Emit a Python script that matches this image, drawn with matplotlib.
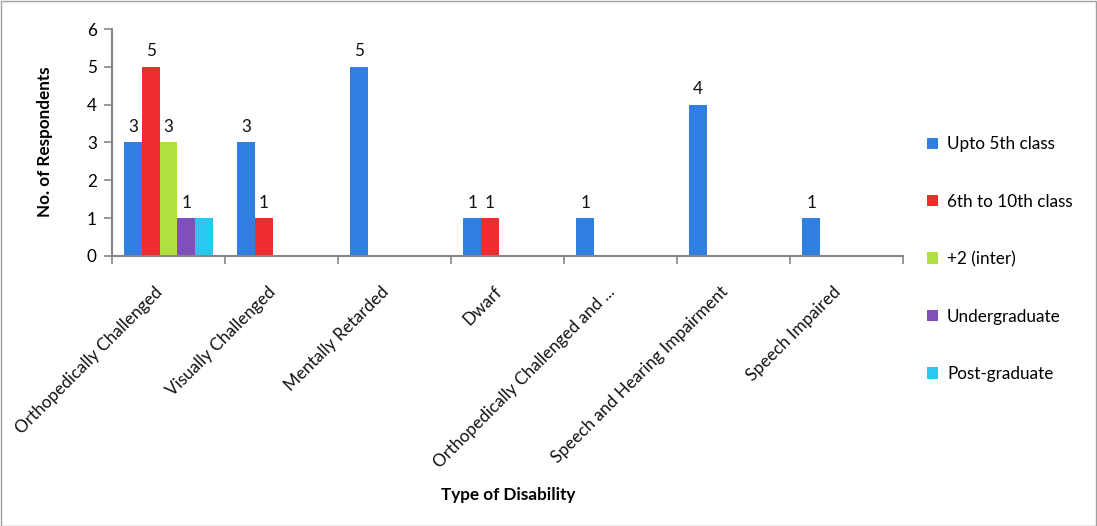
import matplotlib
matplotlib.use("Agg")
import matplotlib.pyplot as plt
import numpy as np
from matplotlib.patches import Rectangle

categories = ["Orthopedically Challenged", "Visually Challenged", "Mentally Retarded",
              "Dwarf", "Orthopedically Challenged and ...", "Speech and Hearing Impairment",
              "Speech Impaired"]
series_names = ["Upto 5th class", "6th to 10th class", "+2 (inter)", "Undergraduate", "Post-graduate"]
upto5 = [3, 3, 5, 1, 1, 4, 1]
sixth_tenth = [5, 1, 0, 1, 0, 0, 0]
plus2 = [3, 0, 0, 0, 0, 0, 0]
undergrad = [1, 0, 0, 0, 0, 0, 0]
postgrad = [1, 0, 0, 0, 0, 0, 0]
series = [upto5, sixth_tenth, plus2, undergrad, postgrad]
colors = ["#2F80E0", "#EE2E2E", "#B0E040", "#8050B8", "#28C8F0"]
show_labels = [True, True, True, True, False]

plt.rcParams['font.family'] = ['Lato', 'DejaVu Sans']
FS = 12.3

fig = plt.figure(figsize=(10.97, 5.26), dpi=100)
ax = fig.add_axes([112/1097, 1 - 256/526, (903-112)/1097, (256-29)/526])

n = len(categories)
w = 0.156
x = np.arange(n) + 0.5
for j, (vals, c, name) in enumerate(zip(series, colors, series_names)):
    pos = x + (j - 2) * w
    ax.bar(pos, vals, width=w, color=c, label=name, zorder=2)
    if show_labels[j]:
        for p, v in zip(pos, vals):
            if v > 0:
                ax.text(p, v + 0.2, str(v), ha='center', va='bottom', fontsize=FS, color='#111111')

ax.set_xlim(0, n)
ax.set_ylim(0, 6)
ax.set_yticks(range(0, 7))
ax.tick_params(axis='y', labelsize=FS, length=6, color='#868686', width=1.2, pad=5)
ax.set_xticks(range(0, n + 1))
ax.set_xticklabels([])
ax.tick_params(axis='x', length=6, color='#868686', width=1.2)
for i, cat in enumerate(categories):
    ax.annotate(cat, xy=(i + 0.5, 0), xycoords='data', xytext=(-6, -24), textcoords='offset points',
                rotation=45, ha='right', va='center', rotation_mode='anchor', fontsize=FS,
                color='#111111')
for s in ['top', 'right']:
    ax.spines[s].set_visible(False)
for s in ['left', 'bottom']:
    ax.spines[s].set_color('#868686')
    ax.spines[s].set_linewidth(1.5)

fig.text(45/1097, 1 - 142/526, "No. of Respondents", rotation=90, ha='center', va='center',
         fontsize=FS, fontweight='bold')
fig.text(508/1097, 1 - 495/526, "Type of Disability", ha='center', va='center',
         fontsize=FS, fontweight='bold')

leg = fig.legend(loc='upper left', bbox_to_anchor=(912/1097, 1 - 121/526), frameon=False,
                 fontsize=FS, handlelength=0.65, handleheight=0.65, handletextpad=0.5,
                 labelspacing=2.42)

fig.add_artist(Rectangle((0.5/1097, 0.5/526), 1 - 1.5/1097, 1 - 1.5/526, transform=fig.transFigure,
                         fill=False, edgecolor='#A0A0A0', linewidth=1))

fig.savefig("out.png", dpi=100)
